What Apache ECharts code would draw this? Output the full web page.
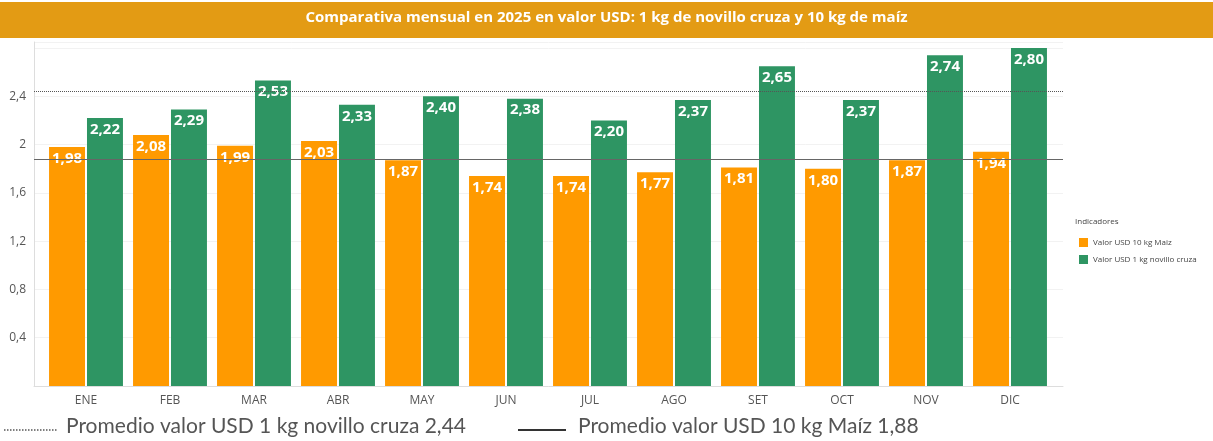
<!DOCTYPE html>
<html>
<head>
<meta charset="utf-8">
<script src="https://cdn.jsdelivr.net/npm/echarts@6/dist/echarts.min.js"></script>
<style>
  html, body { margin: 0; padding: 0; background: #fff; }
  #chart { width: 1213px; height: 441px; }
</style>
</head>
<body>
<div id="chart"></div>
<script>
// datos
var meses = ['ENE', 'FEB', 'MAR', 'ABR', 'MAY', 'JUN', 'JUL', 'AGO', 'SET', 'OCT', 'NOV', 'DIC'];
var maiz = [1.98, 2.08, 1.99, 2.03, 1.87, 1.74, 1.74, 1.77, 1.81, 1.80, 1.87, 1.94];
var novillo = [2.22, 2.29, 2.53, 2.33, 2.40, 2.38, 2.20, 2.37, 2.65, 2.37, 2.74, 2.80];
var promNovillo = 2.44;
var promMaiz = 1.88;
var yTicks = [0.4, 0.8, 1.2, 1.6, 2, 2.4];
var yMax = 2.85;

var coma = function (v) { return String(v).replace('.', ','); };
var dosDec = function (v) { return v.toFixed(2).replace('.', ','); };

var myChart = echarts.init(document.getElementById('chart'));
var font = "'Open Sans', 'Noto Sans', sans-serif";

var etiqueta = {
  show: true,
  position: 'insideTop',
  distance: 4,
  color: '#fff',
  fontWeight: 'bold',
  fontSize: 15,
  formatter: function (p) { return dosDec(p.value); }
};

var option = {
  animation: false,
  textStyle: { fontFamily: font },
  // grid 0: marco completo (eje Y, lineas de promedio); grid 1: barras con margen interno
  grid: [
    { left: 34, right: 150, top: 42, bottom: 55 },
    { left: 44, right: 161, top: 42, bottom: 55 }
  ],
  legend: {
    orient: 'vertical',
    left: 1074,
    top: 233,
    itemWidth: 9,
    itemHeight: 9,
    itemGap: 8,
    icon: 'rect',
    textStyle: { fontSize: 8, color: '#444', fontFamily: font },
    data: ['Valor USD 10 kg Maiz', 'Valor USD 1 kg novillo cruza']
  },
  xAxis: [
    {
      type: 'value', gridIndex: 0, min: 0, max: 1,
      axisLine: { show: true, onZero: false, lineStyle: { color: '#ddd' } },
      axisTick: { show: false }, axisLabel: { show: false }, splitLine: { show: false }
    },
    {
      type: 'category', gridIndex: 1,
      data: meses,
      axisTick: { show: false },
      axisLine: { show: false },
      axisLabel: { color: '#555', fontSize: 12, margin: 9 }
    }
  ],
  yAxis: [
    {
      type: 'value', gridIndex: 0,
      min: 0, max: yMax, interval: 0.4,
      axisLine: { show: true, lineStyle: { color: '#ddd' } },
      axisTick: { show: false },
      axisLabel: {
        color: '#555',
        fontSize: 12,
        margin: 8,
        formatter: function (v) {
          var r = Math.round(v * 10) / 10;
          return yTicks.indexOf(r) >= 0 && Math.abs(r - v) < 1e-6 ? coma(r) : '';
        }
      },
      splitLine: { lineStyle: { color: '#f2f2f2' } }
    },
    {
      type: 'value', gridIndex: 1,
      min: 0, max: yMax,
      axisLine: { show: false }, axisTick: { show: false },
      axisLabel: { show: false }, splitLine: { show: false }
    }
  ],
  series: [
    {
      name: 'promedios',
      type: 'line',
      xAxisIndex: 0, yAxisIndex: 0,
      data: [],
      markLine: {
        silent: true,
        symbol: 'none',
        label: { show: false },
        data: [
          { yAxis: promNovillo, lineStyle: { color: '#555', type: 'dotted', width: 1 } },
          { yAxis: promMaiz, lineStyle: { color: '#666', type: 'solid', width: 1.2 } }
        ]
      },
      z: 5
    },
    {
      name: 'Valor USD 10 kg Maiz',
      type: 'bar',
      xAxisIndex: 1, yAxisIndex: 1,
      data: maiz,
      barGap: '5.5%',
      barCategoryGap: '12%',
      itemStyle: { color: '#FF9A00' },
      label: etiqueta
    },
    {
      name: 'Valor USD 1 kg novillo cruza',
      type: 'bar',
      xAxisIndex: 1, yAxisIndex: 1,
      data: novillo,
      itemStyle: { color: '#2E9563' },
      label: etiqueta
    }
  ],
  graphic: [
    {
      type: 'rect',
      left: 0, top: 2,
      shape: { width: 1213, height: 36 },
      style: { fill: '#E39B14' },
      z: 0
    },
    {
      type: 'text',
      left: 'center', top: 10,
      style: {
        text: 'Comparativa mensual en 2025 en valor USD: 1 kg de novillo cruza y 10 kg de maíz',
        fill: '#fff',
        font: "bold 15px " + font
      },
      z: 1
    },
    {
      type: 'text',
      left: 1075, top: 218,
      style: { text: 'Indicadores', fill: '#444', font: "8px " + font }
    },
    {
      type: 'line',
      shape: { x1: 4, y1: 430, x2: 58, y2: 430 },
      style: { stroke: '#555', lineWidth: 1.5, lineDash: [1.5, 1.5] }
    },
    {
      type: 'text',
      left: 66, top: 416,
      style: {
        text: 'Promedio valor USD 1 kg novillo cruza ' + coma(promNovillo),
        fill: '#555',
        font: "21px 'Lato', 'Open Sans', sans-serif"
      }
    },
    {
      type: 'line',
      shape: { x1: 518, y1: 430, x2: 566, y2: 430 },
      style: { stroke: '#333', lineWidth: 2 }
    },
    {
      type: 'text',
      left: 578, top: 416,
      style: {
        text: 'Promedio valor USD 10 kg Maíz ' + coma(promMaiz),
        fill: '#555',
        font: "21px 'Lato', 'Open Sans', sans-serif"
      }
    }
  ]
};

myChart.setOption(option);
</script>
</body>
</html>
